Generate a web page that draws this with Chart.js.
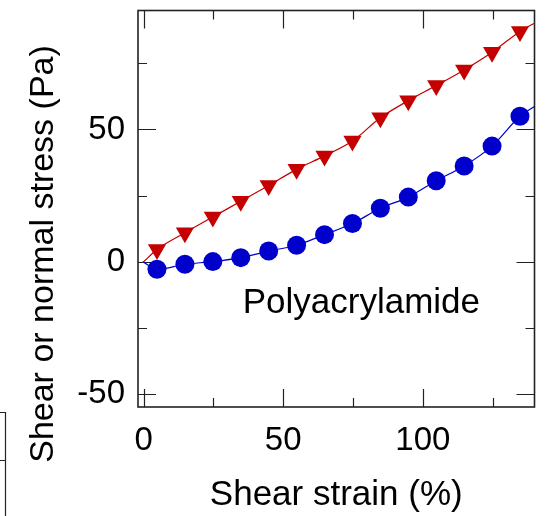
<!DOCTYPE html>
<html>
<head>
<meta charset="utf-8">
<script src="https://cdn.jsdelivr.net/npm/chart.js@4"></script>
<style>
  html, body { margin: 0; padding: 0; background: #fff; }
  canvas { display: block; }
</style>
</head>
<body>
<canvas id="stressChart" width="545" height="516"></canvas>
<script>
// Data
const strain = [4.8, 14.8, 24.8, 34.8, 44.8, 54.8, 64.8, 74.8, 84.8, 94.8, 104.8, 114.8, 124.8, 134.8];
const shearStress = [4.6, 10.9, 16.9, 22.8, 28.8, 34.9, 40.0, 45.6, 54.4, 60.9, 66.6, 72.5, 79.2, 87.1];
const normalStress = [-2.9, -1.0, 0.0, 1.5, 4.0, 6.2, 10.2, 14.4, 20.2, 24.4, 30.6, 36.2, 43.7, 55.0];
// where the measured curves enter and leave the plot
const shearCurveEnds = [[-0.2, -0.3], [140, 90.2]];
const normalCurveEnds = [[-0.3, 0.0], [140, 58.7]];

const xTickLabels = [0, 50, 100];
const yTickLabels = [-50, 0, 50];

const RED = '#c40000';
const BLUE = '#0000cc';
const FONT = "'Liberation Sans', Arial, sans-serif";

const toPoints = (xs, ys) => xs.map((x, i) => ({ x: x, y: ys[i] }));
const curve = (ends, xs, ys) => [
  { x: ends[0][0], y: ends[0][1] },
  ...toPoints(xs, ys),
  { x: ends[1][0], y: ends[1][1] }
];

// no extra room for edge labels, the layout is fixed
const noEdgePadding = s => {
  s.paddingTop = 0; s.paddingBottom = 0;
  s.paddingLeft = 0; s.paddingRight = 0;
};

// frame with inward ticks on all four sides, plus the texts
const frameTicks = {
  id: 'frameTicks',
  beforeDatasetsDraw(chart) {
    const { ctx, chartArea: a, scales: { x, y } } = chart;
    ctx.save();
    ctx.strokeStyle = '#222';
    ctx.lineWidth = 1.2;
    ctx.beginPath();
    for (let v = 0; v <= x.max; v += 25) {
      const px = Math.round(x.getPixelForValue(v)) + 0.5;
      const len = v % 50 === 0 ? 18 : 9;
      ctx.moveTo(px, a.bottom); ctx.lineTo(px, a.bottom - len);
      ctx.moveTo(px, a.top); ctx.lineTo(px, a.top + len);
    }
    for (let v = -50; v <= y.max; v += 25) {
      const py = Math.round(y.getPixelForValue(v)) + 0.5;
      const len = v % 50 === 0 ? 18 : 9;
      ctx.moveTo(a.left, py); ctx.lineTo(a.left + len, py);
      ctx.moveTo(a.right, py); ctx.lineTo(a.right - len, py);
    }
    ctx.stroke();
    ctx.lineWidth = 1.6;
    ctx.strokeRect(a.left, a.top, a.right - a.left, a.bottom - a.top);
    ctx.restore();
  },
  afterDraw(chart) {
    const { ctx, scales: { x, y } } = chart;
    ctx.save();
    ctx.fillStyle = '#000';
    ctx.font = '35px ' + FONT;
    ctx.textAlign = 'center';
    ctx.textBaseline = 'alphabetic';
    ctx.fillText('Polyacrylamide', x.getPixelForValue(78), y.getPixelForValue(-19.5));

    // y title sits lower than the axis centre in the original
    ctx.save();
    ctx.font = '34px ' + FONT;
    ctx.translate(44, 254);
    ctx.rotate(-Math.PI / 2);
    ctx.textBaseline = 'middle';
    ctx.fillText('Shear or normal stress (Pa)', 0, 0);
    ctx.restore();

    // edge of the neighbouring panel
    ctx.strokeStyle = '#222';
    ctx.lineWidth = 1.2;
    ctx.beginPath();
    ctx.moveTo(0, 412.5); ctx.lineTo(5.5, 412.5); ctx.lineTo(5.5, 516);
    ctx.moveTo(0, 460.5); ctx.lineTo(5.5, 460.5);
    ctx.stroke();
    ctx.restore();
  }
};

new Chart(document.getElementById('stressChart'), {
  type: 'scatter',
  data: {
    datasets: [
      {
        label: 'Shear stress',
        data: toPoints(strain, shearStress),
        pointStyle: 'triangle',
        rotation: 180,
        pointRadius: 10.5,
        backgroundColor: RED,
        borderColor: RED,
        borderWidth: 0,
        order: 0
      },
      {
        label: 'Normal stress',
        data: toPoints(strain, normalStress),
        pointStyle: 'circle',
        pointRadius: 9.5,
        backgroundColor: BLUE,
        borderColor: BLUE,
        borderWidth: 0,
        order: 0
      },
      {
        label: 'Shear curve',
        data: curve(shearCurveEnds, strain, shearStress),
        showLine: true,
        pointRadius: 0,
        borderColor: RED,
        borderWidth: 1.2,
        cubicInterpolationMode: 'monotone',
        order: 1
      },
      {
        label: 'Normal curve',
        data: curve(normalCurveEnds, strain, normalStress),
        showLine: true,
        pointRadius: 0,
        borderColor: BLUE,
        borderWidth: 1.2,
        cubicInterpolationMode: 'monotone',
        order: 1
      }
    ]
  },
  options: {
    responsive: false,
    animation: false,
    layout: { padding: { top: 6, right: 5, left: 0, bottom: 0 } },
    plugins: {
      legend: { display: false },
      tooltip: { enabled: false }
    },
    scales: {
      x: {
        type: 'linear',
        min: -2,
        max: 140,
        afterFit: s => { s.height = 109; noEdgePadding(s); },
        afterBuildTicks: s => { s.ticks = xTickLabels.map(v => ({ value: v })); },
        grid: { display: false, drawTicks: false },
        border: { display: false },
        ticks: { color: '#000', font: { family: FONT, size: 33 }, padding: 14, maxRotation: 0 },
        title: {
          display: true,
          text: 'Shear strain (%)',
          color: '#000',
          font: { family: FONT, size: 35 },
          padding: { top: 0, bottom: 0 }
        }
      },
      y: {
        type: 'linear',
        min: -55,
        max: 95,
        afterFit: s => { s.width = 138; noEdgePadding(s); },
        afterBuildTicks: s => { s.ticks = yTickLabels.map(v => ({ value: v })); },
        grid: { display: false, drawTicks: false },
        border: { display: false },
        ticks: { color: '#000', font: { family: FONT, size: 33 }, padding: 13 },
        title: { display: false }
      }
    }
  },
  plugins: [frameTicks]
});
</script>
</body>
</html>
